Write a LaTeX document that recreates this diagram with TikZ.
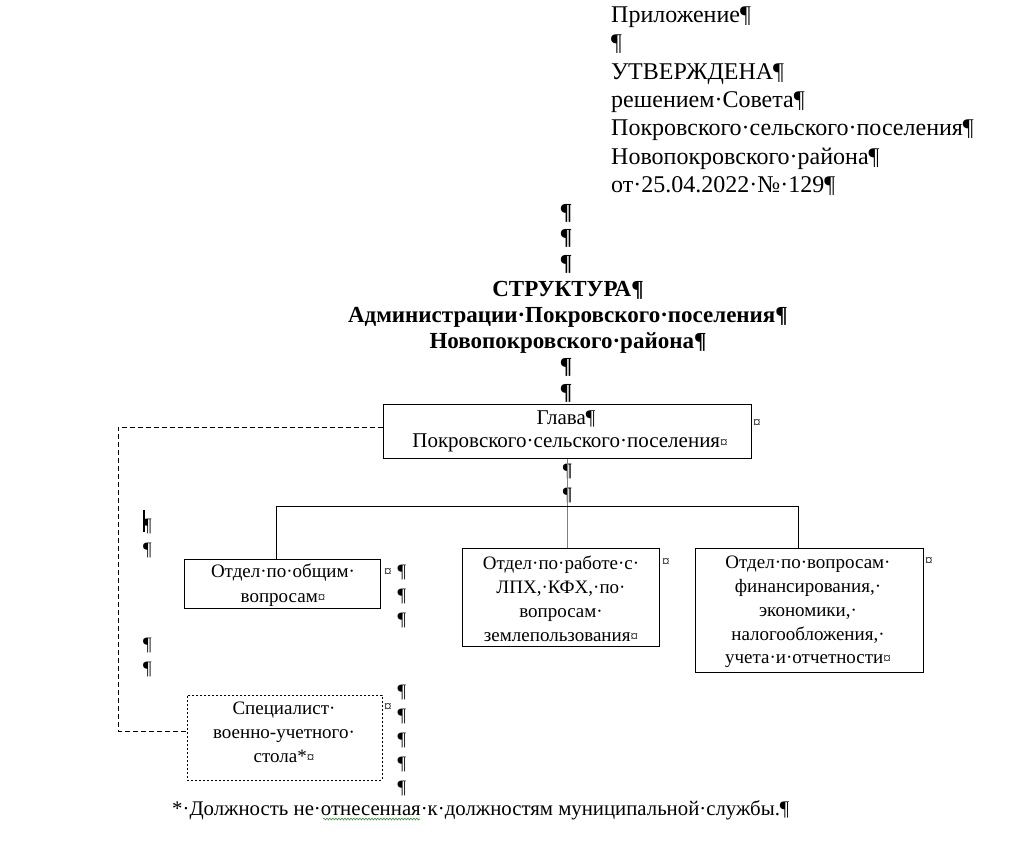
\documentclass[tikz,border=0pt]{standalone}
\usepackage{fontspec}
\setmainfont{Liberation Serif}
\usetikzlibrary{decorations.pathmorphing}
\definecolor{wavegreen}{HTML}{3A9A3A}
\newcommand{\sm}{{\fontsize{15}{15}\selectfont ¤}}
\begin{document}
\begin{tikzpicture}[x=1pt,y=-1pt,
  trline/.style={font=\fontsize{24}{28}\selectfont, inner sep=0pt, anchor=base west},
  hdline/.style={font=\fontsize{23}{26}\selectfont\bfseries, inner sep=0pt, anchor=base},
  cellline/.style={font=\fontsize{19}{23}\selectfont, inner sep=0pt, anchor=base},
  glline/.style={font=\fontsize{21}{23}\selectfont, inner sep=0pt, anchor=base},
  pmark/.style={font=\fontsize{19}{23}\selectfont, inner sep=0pt, anchor=base west},
  endmark/.style={font=\fontsize{15}{15}\selectfont, inner sep=0pt, anchor=base west},
  boxa/.style={draw, line width=1pt, inner sep=0pt, anchor=north west},
  dotbox/.style={draw, line width=0.8pt, dash pattern=on 2pt off 2pt, inner sep=0pt, anchor=north west},
  link/.style={line width=1pt},
  dlink/.style={line width=1pt, dash pattern=on 5pt off 3pt}]
\useasboundingbox (0,0) rectangle (1027,841);
% top right
\node[trline] (t1) at (611,22) {Приложение¶};
\node[trline] (t2) at (611,50.5) {¶};
\node[trline] (t3) at (611,79) {УТВЕРЖДЕНА¶};
\node[trline] (t4) at (611,107.3) {решением·Совета¶};
\node[trline] (t5) at (611,135.6) {Покровского·сельского·поселения¶};
\node[trline] (t6) at (611,164) {Новопокровского·района¶};
\node[trline] (t7) at (611,192.3) {от·25.04.2022·№·129¶};
% heading
\node[hdline] (h1) at (566,219) {¶};
\node[hdline] (h2) at (566,244.8) {¶};
\node[hdline] (h3) at (566,270.6) {¶};
\node[hdline] (h4) at (568,296.4) {СТРУКТУРА¶};
\node[hdline] (h5) at (568,322.2) {Администрации·Покровского·поселения¶};
\node[hdline] (h6) at (568,348) {Новопокровского·района¶};
\node[hdline] (h7) at (566,373.8) {¶};
\node[hdline] (h8) at (566,399.6) {¶};
% boxes
\node[boxa, minimum width=368, minimum height=54] (glava) at (383,404) {};
\node[boxa, minimum width=196, minimum height=49] (b1) at (184,559) {};
\node[boxa, minimum width=197, minimum height=98] (b2) at (462,548) {};
\node[boxa, minimum width=228, minimum height=124] (b3) at (695,548) {};
\node[dotbox, minimum width=195, minimum height=85] (sp) at (187,695) {};
% box texts
\node[glline] (g1) at (566,424) {Глава¶};
\node[glline] (g2) at (570,447) {Покровского·сельского·поселения\sm};
\node[cellline] (a1) at (283,577) {Отдел·по·общим·};
\node[cellline] (a2) at (283,602) {вопросам\sm};
\node[cellline] (c1) at (561,569) {Отдел·по·работе·с·};
\node[cellline] (c2) at (561,593) {ЛПХ,·КФХ,·по·};
\node[cellline] (c3) at (561,617.5) {вопросам·};
\node[cellline] (c4) at (561,641.5) {землепользования\sm};
\node[cellline] (d1) at (808,568) {Отдел·по·вопросам·};
\node[cellline] (d2) at (808,592) {финансирования,·};
\node[cellline] (d3) at (808,616) {экономики,·};
\node[cellline] (d4) at (808,640) {налогообложения,·};
\node[cellline] (d5) at (808,663.5) {учета·и·отчетности\sm};
\node[cellline] (s1) at (284,714) {Специалист·};
\node[cellline] (s2) at (284,738) {военно-учетного·};
\node[cellline] (s3) at (284,762) {стола*\sm};
% cell-end marks outside
\node[endmark] (e0) at (753,427) {¤};
\node[endmark] (e1) at (384,576) {¤};
\node[endmark] (e2) at (662,566) {¤};
\node[endmark] (e3) at (925,565) {¤};
\node[endmark] (e4) at (384,711) {¤};
% paragraph marks
\node[pmark, font=\fontsize{19}{23}\selectfont\bfseries] (p1) at (562,476) {¶};
\node[pmark, font=\fontsize{19}{23}\selectfont\bfseries] (p2) at (562,500) {¶};
\node[pmark] (q1) at (397.5,577) {¶};
\node[pmark] (q2) at (397.5,601) {¶};
\node[pmark] (q3) at (397.5,625) {¶};
\node[pmark] (q4) at (397.5,697) {¶};
\node[pmark] (q5) at (397.5,721) {¶};
\node[pmark] (q6) at (397.5,745) {¶};
\node[pmark] (q7) at (397.5,769) {¶};
\node[pmark] (q8) at (397.5,793) {¶};
\node[pmark] (l1) at (143,531) {¶};
\node[pmark] (l2) at (143,555) {¶};
\node[pmark] (l3) at (143,650) {¶};
\node[pmark] (l4) at (143,674) {¶};
\coordinate (cur1) at (144,510);
\coordinate (cur2) at (144,532);
\draw[line width=1.5pt] (cur1) -- (cur2);
% footnote
\node[pmark, font=\fontsize{20.8}{24}\selectfont] (fn) at (172,815) {*·Должность не·отнесенная·к·должностям муниципальной·службы.¶};
\coordinate (w1) at (323,819);
\coordinate (w2) at (420,819);
\draw[wavegreen, line width=0.6pt, decorate, decoration={snake, segment length=3pt, amplitude=0.9pt}] (w1) -- (w2);
% connectors
\coordinate (bl) at (276,506);
\coordinate (br) at (798,506);
\draw[link, gray] (glava.south) -- (glava.south |- b2.north);
\draw[link] (b1.north -| bl) -- (bl) -- (br) -- (b3.north -| br);
\coordinate (dc1) at (118,427);
\coordinate (dc2) at (118,731);
\draw[dlink] (glava.west |- dc1) -- (dc1) -- (dc2) -- (sp.west |- dc2);
\end{tikzpicture}
\end{document}
